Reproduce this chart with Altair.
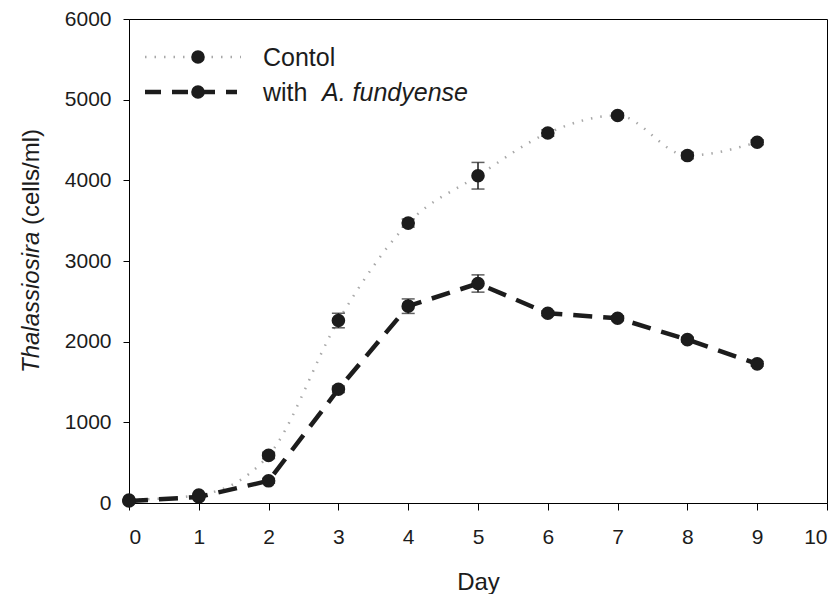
import altair as alt
import pandas as pd

days = [0, 1, 2, 3, 4, 5, 6, 7, 8, 9]
control = [37, 98, 590, 2262, 3470, 4057, 4586, 4804, 4307, 4472]
control_err = [10, 20, 40, 90, 50, 165, 40, 30, 40, 30]
treatment = [25, 75, 275, 1410, 2440, 2721, 2352, 2291, 2025, 1725]
treatment_err = [10, 15, 30, 40, 90, 107, 30, 30, 30, 30]

x_ticks = [0, 1, 2, 3, 4, 5, 6, 7, 8, 9, 10]
y_ticks = [0, 1000, 2000, 3000, 4000, 5000, 6000]

FONT = "Liberation Sans"
INK = "#1c1c1c"

rows = []
for d, v, e in zip(days, control, control_err):
    rows.append({"day": d, "value": v, "lo": v - e, "hi": v + e, "series": "Contol"})
for d, v, e in zip(days, treatment, treatment_err):
    rows.append({"day": d, "value": v, "lo": v - e, "hi": v + e, "series": "with A. fundyense"})
df = pd.DataFrame(rows)
ctrl = df[df.series == "Contol"]
trt = df[df.series != "Contol"]

xs = alt.Scale(domain=[0, 10], nice=False)
ys = alt.Scale(domain=[0, 6000], nice=False)

x_enc = alt.X("day:Q", scale=xs, axis=alt.Axis(values=x_ticks, title="Day", titleY=86,
                                                titleBaseline="alphabetic", titleFontSize=24,
                                                titleFontWeight="normal", titleFont=FONT,
                                                labelPadding=16, tickSize=7, format="d"))
y_enc = alt.Y("value:Q", scale=ys, axis=alt.Axis(values=y_ticks, title=None, labelPadding=12,
                                                  tickSize=6, format="d"))

line_ctrl = alt.Chart(ctrl).mark_line(color="#a8a8a8", strokeWidth=2.5, strokeDash=[1.5, 8],
                                      interpolate="monotone").encode(x=x_enc, y=y_enc)
line_trt = alt.Chart(trt).mark_line(color=INK, strokeWidth=4.5, strokeDash=[19, 11],
                                    interpolate="linear").encode(x=x_enc, y=y_enc)

err_rule = alt.Chart(df).mark_rule(color=INK, strokeWidth=1.5).encode(
    x=alt.X("day:Q", scale=xs), y=alt.Y("lo:Q", scale=ys), y2="hi:Q")
cap_lo = alt.Chart(df).mark_tick(color=INK, size=13, thickness=1.5, orient="horizontal").encode(
    x=alt.X("day:Q", scale=xs), y=alt.Y("lo:Q", scale=ys))
cap_hi = alt.Chart(df).mark_tick(color=INK, size=13, thickness=1.5, orient="horizontal").encode(
    x=alt.X("day:Q", scale=xs), y=alt.Y("hi:Q", scale=ys))

pts = alt.Chart(df).mark_circle(color=INK, opacity=1, size=185).encode(
    x=alt.X("day:Q", scale=xs), y=alt.Y("value:Q", scale=ys))

one = pd.DataFrame({"k": [0]})

# y-axis title (mixed italic)
yt1 = alt.Chart(one).mark_text(text="Thalassiosira", angle=270, align="left", baseline="middle",
                               font=FONT, fontSize=24, fontStyle="italic", color=INK).encode(
    x=alt.value(-97), y=alt.value(354))
yt2 = alt.Chart(one).mark_text(text="(cells/ml)", angle=270, align="left", baseline="middle",
                               font=FONT, fontSize=24, color=INK).encode(
    x=alt.value(-97), y=alt.value(206))

# legend
leg_l1 = alt.Chart(one).mark_rule(color="#a8a8a8", strokeWidth=2.5, strokeDash=[1.5, 8]).encode(
    x=alt.value(16), x2=alt.value(112), y=alt.value(38))
leg_l2 = alt.Chart(one).mark_rule(color=INK, strokeWidth=4.5, strokeDash=[16, 11]).encode(
    x=alt.value(16), x2=alt.value(108), y=alt.value(73))
leg_p1 = alt.Chart(one).mark_circle(color=INK, opacity=1, size=185).encode(
    x=alt.value(69), y=alt.value(38))
leg_p2 = alt.Chart(one).mark_circle(color=INK, opacity=1, size=185).encode(
    x=alt.value(69), y=alt.value(73))
leg_t1 = alt.Chart(one).mark_text(text="Contol", align="left", baseline="middle", font=FONT,
                                  fontSize=25, color=INK).encode(x=alt.value(134), y=alt.value(39))
leg_t2 = alt.Chart(one).mark_text(text="with", align="left", baseline="middle", font=FONT,
                                  fontSize=25, color=INK).encode(x=alt.value(134), y=alt.value(74))
leg_t3 = alt.Chart(one).mark_text(text="A. fundyense", align="left", baseline="middle", font=FONT,
                                  fontSize=25, fontStyle="italic", color=INK).encode(
    x=alt.value(193), y=alt.value(74))

chart = alt.layer(line_ctrl, line_trt, err_rule, cap_lo, cap_hi, pts,
                  yt1, yt2, leg_l1, leg_l2, leg_p1, leg_p2, leg_t1, leg_t2, leg_t3).properties(
    width=698, height=484,
    autosize=alt.AutoSizeParams(type="none"),
    padding={"left": 121, "top": 11, "right": 5, "bottom": 91},
    background="white",
).configure_view(stroke="black", strokeWidth=1).configure_axis(
    grid=False, domainColor="black", tickColor="black", domainWidth=1, tickWidth=1,
    labelFont=FONT, labelFontSize=21, labelColor=INK, titleColor=INK,
)

chart.save("out.html", embed_options={"renderer": "svg", "actions": False})
